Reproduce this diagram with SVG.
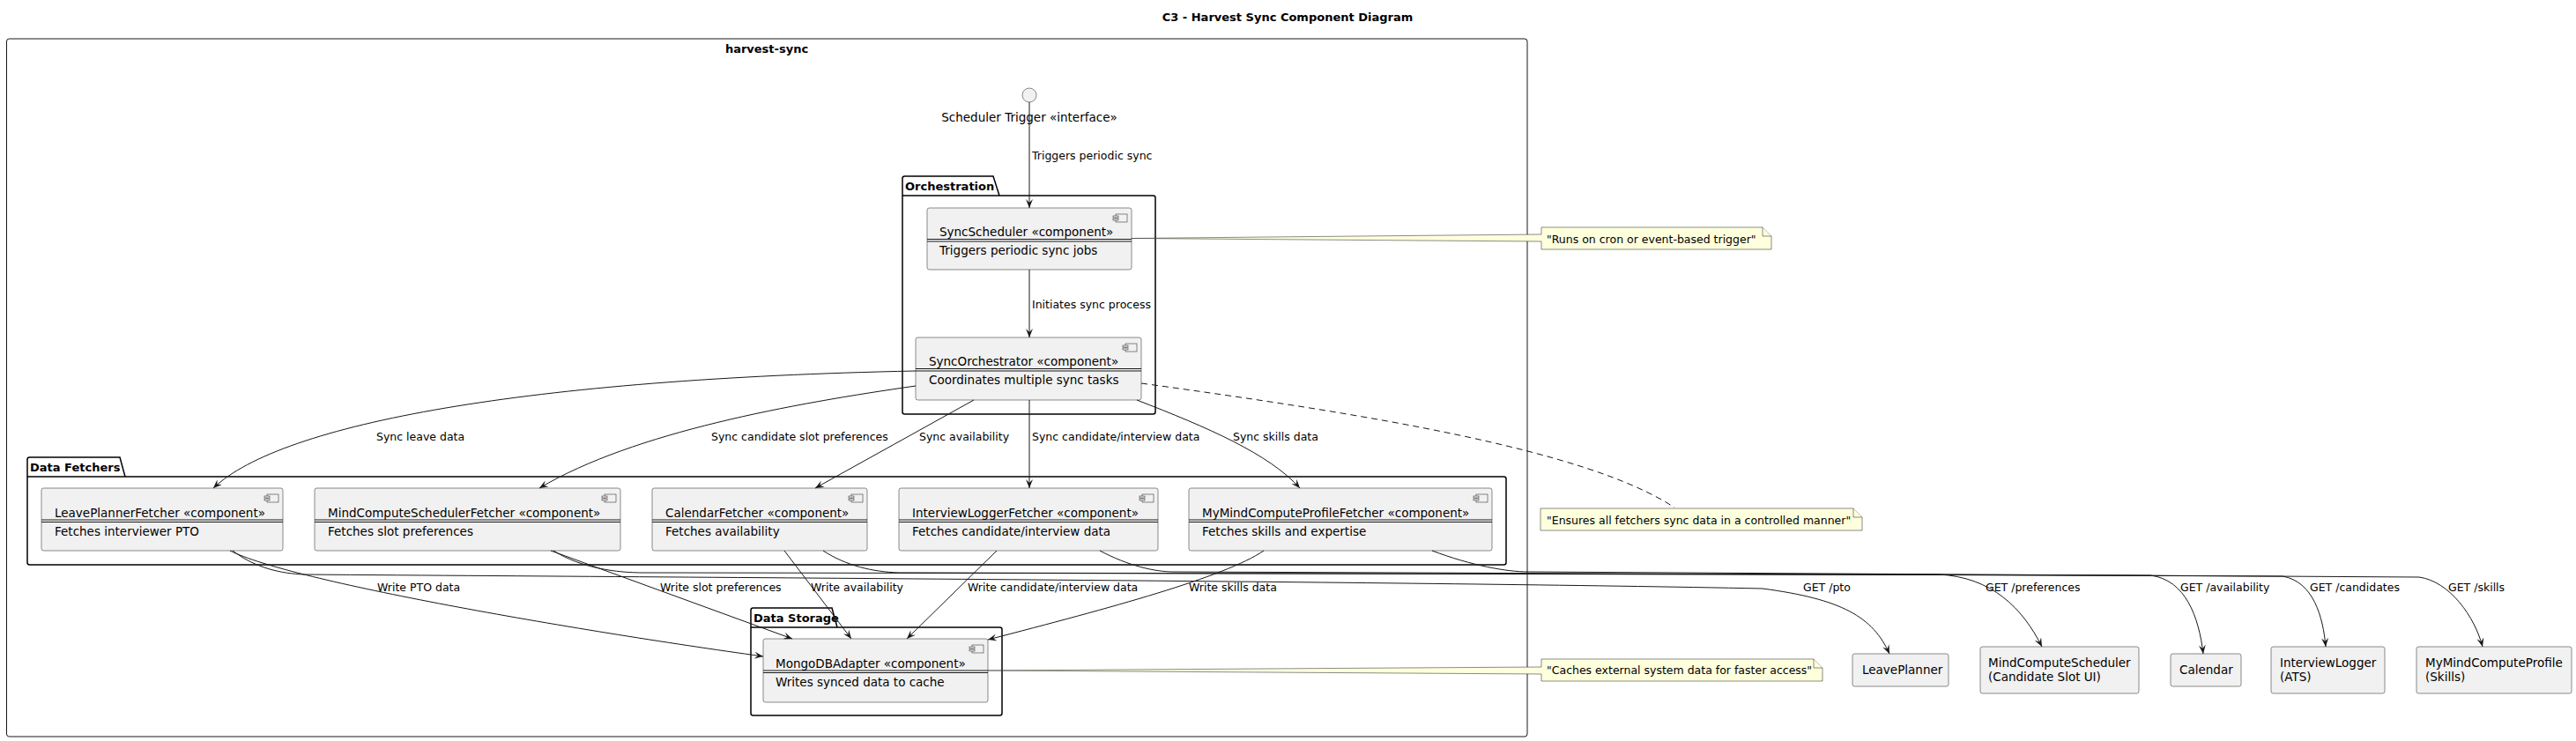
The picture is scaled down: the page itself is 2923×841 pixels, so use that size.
<svg xmlns="http://www.w3.org/2000/svg" width="2923" height="841" viewBox="0 0 2923 841">
<style>
text{font-family:"DejaVu Sans","Liberation Sans",sans-serif;fill:#000}
.t{font-size:13px;font-weight:bold}
.c{font-size:13.5px}
.l{font-size:12.5px}
.n{font-size:12.5px}
.box{fill:#F1F1F1;stroke:#181818;stroke-width:0.5}
.ico{fill:#F1F1F1;stroke:#181818;stroke-width:0.5}
.sep{stroke:#181818;stroke-width:1}
.pkg{fill:none;stroke:#000;stroke-width:1.5}
.note{fill:#FEFFDD;stroke:#181818;stroke-width:0.5}
.e{fill:none;stroke:#181818;stroke-width:1;marker-end:url(#ah)}
.d{fill:none;stroke:#181818;stroke-width:1;stroke-dasharray:7,5}
</style>
<defs>
<marker id="ah" viewBox="0 0 10 8" refX="10" refY="4" markerWidth="10" markerHeight="8" markerUnits="userSpaceOnUse" orient="auto">
<path d="M0,0 L10,4 L0,8 L4,4 Z" fill="#181818"/>
</marker>
</defs>
<rect width="2923" height="841" fill="#fff"/>
<text class="t" x="1461" y="24" text-anchor="middle">C3 - Harvest Sync Component Diagram</text>

<g id="harvest-sync">
<rect x="7.5" y="44" width="1725.5" height="792" rx="3" fill="none" stroke="#181818" stroke-width="1"/>
<text class="t" x="870" y="60" text-anchor="middle">harvest-sync</text>
</g>

<g id="pkg-orchestration">
<path class="pkg" d="M1024 222 L1024 202.5 Q1024 200 1026.5 200 L1127 200 L1134 222 L1308.5 222 Q1311 222 1311 224.5 L1311 467.5 Q1311 470 1308.5 470 L1026.5 470 Q1024 470 1024 467.5 Z M1024 222 L1134 222"/>
<text class="t" x="1027" y="216">Orchestration</text>
</g>

<g id="pkg-datafetchers">
<path class="pkg" d="M31 541 L31 521.5 Q31 519 33.5 519 L136 519 L142 541 L1706.5 541 Q1709 541 1709 543.5 L1709 638.5 Q1709 641 1706.5 641 L33.5 641 Q31 641 31 638.5 Z M31 541 L142 541"/>
<text class="t" x="34" y="535">Data Fetchers</text>
</g>

<g id="pkg-datastorage">
<path class="pkg" d="M852 712 L852 692.5 Q852 690 854.5 690 L944 690 L950 712 L1134.5 712 Q1137 712 1137 714.5 L1137 809.5 Q1137 812 1134.5 812 L854.5 812 Q852 812 852 809.5 Z M852 712 L950 712"/>
<text class="t" x="855" y="706">Data Storage</text>
</g>

<g id="scheduler-trigger">
<circle cx="1168" cy="108" r="8" fill="#F1F1F1" stroke="#181818" stroke-width="0.5"/>
<text class="c" x="1168" y="138" text-anchor="middle">Scheduler Trigger «interface»</text>
</g>

<g id="sync-scheduler">
<rect class="box" x="1052" y="236" width="232" height="70" rx="2.5"/>
<rect class="ico" x="1266" y="243" width="13" height="9"/><rect class="ico" x="1263" y="245" width="6" height="2"/><rect class="ico" x="1263" y="248" width="6" height="2"/>
<text class="c" x="1066" y="268">SyncScheduler «component»</text>
<path class="sep" d="M1052 271.5 H1284 M1052 274 H1284"/>
<text class="c" x="1066" y="289">Triggers periodic sync jobs</text>
</g>

<g id="sync-orchestrator">
<rect class="box" x="1039" y="383" width="256" height="71" rx="2.5"/>
<rect class="ico" x="1277" y="390" width="13" height="9"/><rect class="ico" x="1274" y="392" width="6" height="2"/><rect class="ico" x="1274" y="395" width="6" height="2"/>
<text class="c" x="1054" y="415">SyncOrchestrator «component»</text>
<path class="sep" d="M1039 418.5 H1295 M1039 421 H1295"/>
<text class="c" x="1054" y="436">Coordinates multiple sync tasks</text>
</g>

<g id="leave-planner-fetcher">
<rect class="box" x="47" y="554" width="274" height="71" rx="2.5"/>
<rect class="ico" x="303" y="561" width="13" height="9"/><rect class="ico" x="300" y="563" width="6" height="2"/><rect class="ico" x="300" y="566" width="6" height="2"/>
<text class="c" x="62" y="586.5">LeavePlannerFetcher «component»</text>
<path class="sep" d="M47 590 H321 M47 592.5 H321"/>
<text class="c" x="62" y="607.5">Fetches interviewer PTO</text>
</g>

<g id="mindcompute-scheduler-fetcher">
<rect class="box" x="357" y="554" width="347" height="71" rx="2.5"/>
<rect class="ico" x="686" y="561" width="13" height="9"/><rect class="ico" x="683" y="563" width="6" height="2"/><rect class="ico" x="683" y="566" width="6" height="2"/>
<text class="c" x="372" y="586.5">MindComputeSchedulerFetcher «component»</text>
<path class="sep" d="M357 590 H704 M357 592.5 H704"/>
<text class="c" x="372" y="607.5">Fetches slot preferences</text>
</g>

<g id="calendar-fetcher">
<rect class="box" x="740" y="554" width="244" height="71" rx="2.5"/>
<rect class="ico" x="966" y="561" width="13" height="9"/><rect class="ico" x="963" y="563" width="6" height="2"/><rect class="ico" x="963" y="566" width="6" height="2"/>
<text class="c" x="755" y="586.5">CalendarFetcher «component»</text>
<path class="sep" d="M740 590 H984 M740 592.5 H984"/>
<text class="c" x="755" y="607.5">Fetches availability</text>
</g>

<g id="interview-logger-fetcher">
<rect class="box" x="1020" y="554" width="294" height="71" rx="2.5"/>
<rect class="ico" x="1296" y="561" width="13" height="9"/><rect class="ico" x="1293" y="563" width="6" height="2"/><rect class="ico" x="1293" y="566" width="6" height="2"/>
<text class="c" x="1035" y="586.5">InterviewLoggerFetcher «component»</text>
<path class="sep" d="M1020 590 H1314 M1020 592.5 H1314"/>
<text class="c" x="1035" y="607.5">Fetches candidate/interview data</text>
</g>

<g id="mymindcompute-profile-fetcher">
<rect class="box" x="1349" y="554" width="344" height="71" rx="2.5"/>
<rect class="ico" x="1675" y="561" width="13" height="9"/><rect class="ico" x="1672" y="563" width="6" height="2"/><rect class="ico" x="1672" y="566" width="6" height="2"/>
<text class="c" x="1364" y="586.5">MyMindComputeProfileFetcher «component»</text>
<path class="sep" d="M1349 590 H1693 M1349 592.5 H1693"/>
<text class="c" x="1364" y="607.5">Fetches skills and expertise</text>
</g>

<g id="mongodb-adapter">
<rect class="box" x="866" y="725" width="255" height="72" rx="2.5"/>
<rect class="ico" x="1103" y="732" width="13" height="9"/><rect class="ico" x="1100" y="734" width="6" height="2"/><rect class="ico" x="1100" y="737" width="6" height="2"/>
<text class="c" x="880" y="757.5">MongoDBAdapter «component»</text>
<path class="sep" d="M866 761 H1121 M866 763.5 H1121"/>
<text class="c" x="880" y="778.5">Writes synced data to cache</text>
</g>

<g id="ext-leaveplanner">
<rect class="box" x="2102" y="742" width="109" height="37" rx="2.5"/>
<text class="c" x="2113" y="765">LeavePlanner</text>
</g>
<g id="ext-mindcomputescheduler">
<rect class="box" x="2247" y="734" width="180" height="53" rx="2.5"/>
<text class="c" x="2256" y="757">MindComputeScheduler</text>
<text class="c" x="2256" y="773">(Candidate Slot UI)</text>
</g>
<g id="ext-calendar">
<rect class="box" x="2463" y="742" width="80" height="37" rx="2.5"/>
<text class="c" x="2473" y="765">Calendar</text>
</g>
<g id="ext-interviewlogger">
<rect class="box" x="2577" y="734" width="129" height="53" rx="2.5"/>
<text class="c" x="2587" y="757">InterviewLogger</text>
<text class="c" x="2587" y="773">(ATS)</text>
</g>
<g id="ext-mymindcomputeprofile">
<rect class="box" x="2742" y="734" width="176" height="53" rx="2.5"/>
<text class="c" x="2752" y="757">MyMindComputeProfile</text>
<text class="c" x="2752" y="773">(Skills)</text>
</g>

<g id="note-cron">
<path class="note" d="M1749 258 L2000 258 L2010 268 L2010 283 L1749 283 L1749 274 L1284 270.5 L1749 266 Z"/>
<path class="note" d="M2000 258 L2000 268 L2010 268" fill="none"/>
<text class="n" x="1755" y="276">"Runs on cron or event-based trigger"</text>
</g>
<g id="note-ensures">
<path class="note" d="M1748 577 L2103 577 L2113 587 L2113 602 L1748 602 Z"/>
<path class="note" d="M2103 577 L2103 587 L2113 587" fill="none"/>
<text class="n" x="1755" y="595">"Ensures all fetchers sync data in a controlled manner"</text>
</g>
<g id="note-caches">
<path class="note" d="M1749 748 L2058 748 L2068 758 L2068 773 L1749 773 L1749 765 L1121 761 L1749 757 Z"/>
<path class="note" d="M2058 748 L2058 758 L2068 758" fill="none"/>
<text class="n" x="1755" y="765">"Caches external system data for faster access"</text>
</g>

<g id="connectors">
<path class="e" d="M1168 116 L1168 236"/>
<text class="l" x="1171" y="181">Triggers periodic sync</text>
<path class="e" d="M1168 306 L1168 383"/>
<text class="l" x="1171" y="350">Initiates sync process</text>
<path class="e" d="M1039 421 C600 430 320 480 242 554"/>
<text class="l" x="427" y="500">Sync leave data</text>
<path class="e" d="M1039 438 C900 458 720 490 612 554"/>
<text class="l" x="807" y="500">Sync candidate slot preferences</text>
<path class="e" d="M1105 454 L925 554"/>
<text class="l" x="1043" y="500">Sync availability</text>
<path class="e" d="M1168 454 L1168 554"/>
<text class="l" x="1171" y="500">Sync candidate/interview data</text>
<path class="e" d="M1290 454 C1370 485 1440 515 1475 554"/>
<text class="l" x="1399" y="500">Sync skills data</text>
<path class="d" d="M1295 435 C1550 470 1800 510 1900 576"/>

<path class="e" d="M261 625 C330 660 650 715 866 745"/>
<text class="l" x="428" y="671">Write PTO data</text>
<path class="e" d="M625 625 L899 725"/>
<text class="l" x="749" y="671">Write slot preferences</text>
<path class="e" d="M890 625 L966 725"/>
<text class="l" x="920" y="671">Write availability</text>
<path class="e" d="M1131 625 L1029 725"/>
<text class="l" x="1098" y="671">Write candidate/interview data</text>
<path class="e" d="M1434 625 C1390 655 1260 690 1121 726"/>
<text class="l" x="1349" y="671">Write skills data</text>

<path class="e" d="M264 625 C290 645 320 651 345 652 C900 656 1600 660 2000 668 C2090 680 2125 700 2144 742"/>
<text class="l" x="2046" y="671">GET /pto</text>
<path class="e" d="M628 625 C660 645 700 650 730 650 L2200 652 C2260 655 2295 690 2317 734"/>
<text class="l" x="2253" y="671">GET /preferences</text>
<path class="e" d="M934 625 C960 642 990 649 1020 650 L2440 653 C2480 658 2495 700 2500 742"/>
<text class="l" x="2474" y="671">GET /availability</text>
<path class="e" d="M1248 625 C1280 642 1310 649 1332 649 L2590 654 C2625 660 2636 700 2639 734"/>
<text class="l" x="2621" y="671">GET /candidates</text>
<path class="e" d="M1625 625 C1670 642 1710 649 1734 649 L2745 655 C2780 660 2808 700 2817 734"/>
<text class="l" x="2778" y="671">GET /skills</text>
</g>
</svg>
